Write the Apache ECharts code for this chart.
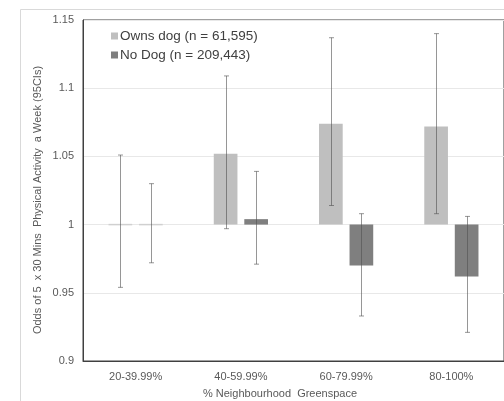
<!DOCTYPE html>
<html>
<head>
<meta charset="utf-8">
<script src="https://cdn.jsdelivr.net/npm/echarts@6/dist/echarts.min.js"></script>
<style>html,body{margin:0;padding:0;background:#fff;}#c{width:504px;height:401px;}</style>
</head>
<body>
<div id="c"></div>
<script>
var categories = ['20-39.99%', '40-59.99%', '60-79.99%', '80-100%'];
var ownsDog = [1.000, 1.052, 1.074, 1.072];
var ownsDogLow = [0.954, 0.997, 1.014, 1.008];
var ownsDogHigh = [1.051, 1.109, 1.137, 1.140];
var noDog = [1.000, 1.004, 0.970, 0.962];
var noDogLow = [0.972, 0.971, 0.933, 0.921];
var noDogHigh = [1.030, 1.039, 1.008, 1.006];
var seriesNames = ['Owns dog (n = 61,595)', 'No Dog (n = 209,443)'];
var yTicks = [0.9, 0.95, 1, 1.05, 1.1, 1.15];
var baseline = 1;

var BAR_W = 0.225, OFF = 0.145;

function barRender(offFrac, color, zeroColor) {
  return function (params, api) {
    var cat = api.value(0), v = api.value(1);
    var p1 = api.coord([cat, v]), p0 = api.coord([cat, baseline]);
    var band = api.size([1, 0])[0];
    var w = band * BAR_W;
    var x = p0[0] + band * offFrac - w / 2;
    var y = Math.min(p0[1], p1[1]);
    var h = Math.abs(p1[1] - p0[1]);
    var fill = color;
    if (h < 1) { h = 1.5; y = p0[1] - 0.75; fill = zeroColor; }
    return { type: 'rect', shape: { x: x, y: y, width: w, height: h }, style: { fill: fill } };
  };
}
function errRender(offFrac) {
  return function (params, api) {
    var cat = api.value(0);
    var lo = api.coord([cat, api.value(1)]), hi = api.coord([cat, api.value(2)]);
    var band = api.size([1, 0])[0];
    var x = Math.round(lo[0] + band * offFrac) + 0.5;
    var st = { stroke: 'rgba(80,80,80,0.6)', lineWidth: 1 };
    return { type: 'group', children: [
      { type: 'line', shape: { x1: x, y1: lo[1], x2: x, y2: hi[1] }, style: st },
      { type: 'line', shape: { x1: x - 2.5, y1: lo[1], x2: x + 2.5, y2: lo[1] }, style: st },
      { type: 'line', shape: { x1: x - 2.5, y1: hi[1], x2: x + 2.5, y2: hi[1] }, style: st }
    ] };
  };
}

var chart = echarts.init(document.getElementById('c'), null, { renderer: 'canvas' });
chart.setOption({
  animation: false,
  textStyle: { fontFamily: 'Liberation Sans, Arial, sans-serif' },
  grid: { left: 83, top: 20, width: 428, height: 341, show: true, borderColor: '#404040', borderWidth: 1, containLabel: false },
  legend: {
    orient: 'vertical', left: 106, top: 24, itemWidth: 7, itemHeight: 7, itemGap: 5,
    icon: 'rect', data: seriesNames,
    textStyle: { fontSize: 13.5, color: '#404040', padding: [0, 0, 0, -3] }
  },
  xAxis: {
    type: 'category', data: categories,
    axisLine: { show: true, lineStyle: { color: '#404040' } },
    axisTick: { show: false },
    axisLabel: { fontSize: 11, color: '#595959', margin: 10 }
  },
  yAxis: {
    type: 'value', min: 0.9, max: 1.15, interval: 0.05,
    axisLine: { show: true, lineStyle: { color: '#404040' } },
    axisTick: { show: false },
    axisLabel: { fontSize: 11, color: '#595959', margin: 9, formatter: function (v) { return String(parseFloat(v.toFixed(2))); } },
    splitLine: { lineStyle: { color: '#e8e8e8' } }
  },
  graphic: [
    { type: 'rect', shape: { x: 20.5, y: 9.5, width: 600, height: 500 }, style: { fill: 'none', stroke: '#d9d9d9', lineWidth: 1 }, z: -1 },
    { type: 'text', x: 38, y: 200, rotation: Math.PI / 2, style: { text: 'Odds of 5  x 30 Mins  Physical Activity  a Week (95CIs)', fontSize: 11, fill: '#595959', align: 'center', verticalAlign: 'middle', fontFamily: 'Liberation Sans, Arial, sans-serif' } },
    { type: 'text', x: 280, y: 394, style: { text: '% Neighbourhood  Greenspace', fontSize: 11, fill: '#595959', align: 'center', verticalAlign: 'middle', fontFamily: 'Liberation Sans, Arial, sans-serif' } }
  ],
  series: [
    { name: seriesNames[0], type: 'custom', itemStyle: { color: '#bfbfbf' }, encode: { x: 0, y: 1 },
      renderItem: barRender(-OFF, '#bfbfbf', '#d0d0d0'),
      data: categories.map(function (c, i) { return [i, ownsDog[i]]; }), z: 2 },
    { name: seriesNames[1], type: 'custom', itemStyle: { color: '#7f7f7f' }, encode: { x: 0, y: 1 },
      renderItem: barRender(OFF, '#7f7f7f', '#d0d0d0'),
      data: categories.map(function (c, i) { return [i, noDog[i]]; }), z: 2 },
    { name: 'ownsErr', type: 'custom', encode: { x: 0, y: [1, 2] }, renderItem: errRender(-OFF), silent: true,
      data: categories.map(function (c, i) { return [i, ownsDogLow[i], ownsDogHigh[i]]; }), z: 3 },
    { name: 'noErr', type: 'custom', encode: { x: 0, y: [1, 2] }, renderItem: errRender(OFF), silent: true,
      data: categories.map(function (c, i) { return [i, noDogLow[i], noDogHigh[i]]; }), z: 3 }
  ]
});
</script>
</body>
</html>
